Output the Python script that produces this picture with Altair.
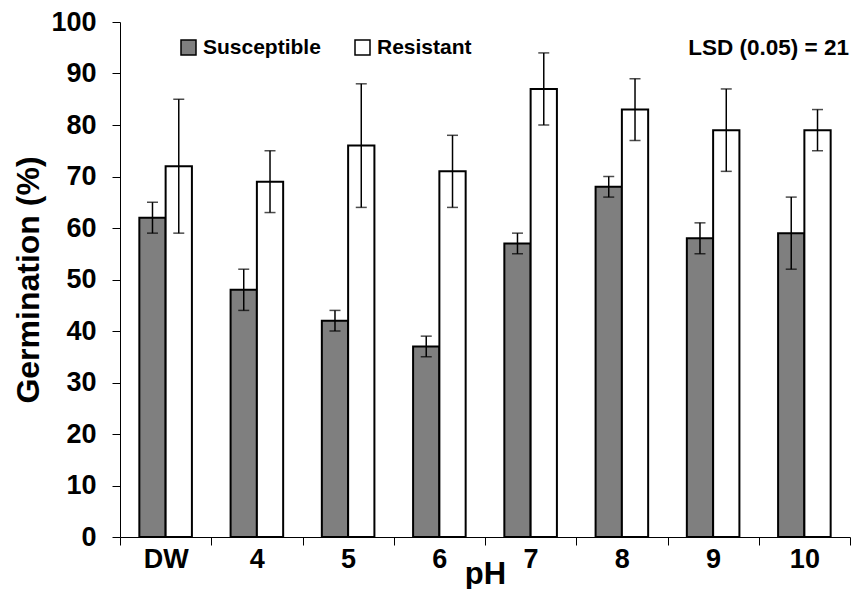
import altair as alt
import pandas as pd

ph = ["DW", "4", "5", "6", "7", "8", "9", "10"]
groups = ["Susceptible", "Resistant"]
susceptible = [62, 48, 42, 37, 57, 68, 58, 59]
susceptible_err = [3, 4, 2, 2, 2, 2, 3, 7]
resistant = [72, 69, 76, 71, 87, 83, 79, 79]
resistant_err = [13, 6, 12, 7, 7, 6, 8, 4]
lsd_text = ["LSD (0.05) = 21"]

rows = []
for i, p in enumerate(ph):
    for g, vals, errs in (("Susceptible", susceptible, susceptible_err),
                          ("Resistant", resistant, resistant_err)):
        rows.append({"pH": p, "group": g, "value": vals[i],
                     "lo": vals[i] - errs[i], "hi": vals[i] + errs[i]})
df = pd.DataFrame(rows)

FONT = "Liberation Sans"

x_axis = alt.Axis(title="pH", labelAngle=0, tickBand="extent", tickSize=8,
                  labelFontSize=27, titleFontSize=31, labelPadding=1,
                  titlePadding=-13)
y_axis = alt.Axis(title="Germination (%)", values=list(range(0, 101, 10)),
                  grid=False, tickSize=8, labelFontSize=27, titleFontSize=32,
                  labelPadding=16, titlePadding=5)

x = alt.X("pH:N", sort=ph, scale=alt.Scale(paddingInner=0, paddingOuter=0), axis=x_axis)
xo = alt.XOffset("group:N", sort=groups,
                 scale=alt.Scale(domain=groups, paddingInner=0, paddingOuter=0.736))
y_scale = alt.Scale(domain=[0, 100], nice=False)

base = alt.Chart(df)

bars = base.mark_bar(stroke="black", strokeWidth=2).encode(
    x=x, xOffset=xo,
    y=alt.Y("value:Q", scale=y_scale, axis=y_axis),
    color=alt.Color("group:N", sort=groups,
                    scale=alt.Scale(domain=groups, range=["#7f7f7f", "#ffffff"]),
                    legend=alt.Legend(title=None, orient="none", legendX=58, legendY=15,
                                      direction="horizontal", symbolType="square",
                                      symbolSize=225, symbolStrokeColor="black",
                                      symbolStrokeWidth=1.5, labelFont=FONT,
                                      labelFontSize=21, labelFontWeight="bold",
                                      labelColor="black", columnPadding=31,
                                      labelOffset=4, padding=0)),
)

rules = base.mark_rule(color="black", strokeWidth=1.5).encode(
    x=x, xOffset=xo,
    y=alt.Y("lo:Q", scale=y_scale, axis=y_axis),
    y2="hi:Q",
)
caps_hi = base.mark_tick(color="black", size=11, thickness=1.5, orient="horizontal").encode(
    x=x, xOffset=xo, y=alt.Y("hi:Q", scale=y_scale, axis=y_axis))
caps_lo = base.mark_tick(color="black", size=11, thickness=1.5, orient="horizontal").encode(
    x=x, xOffset=xo, y=alt.Y("lo:Q", scale=y_scale, axis=y_axis))

lsd = alt.Chart(pd.DataFrame({"t": lsd_text})).mark_text(
    align="right", baseline="middle", font=FONT, fontSize=22.5, fontWeight="bold",
    color="black", dx=-1).encode(x=alt.value("width"), y=alt.value(26), text="t:N")

chart = alt.layer(bars, rules, caps_hi, caps_lo, lsd).properties(
    width=843, height=581,
    autosize=alt.AutoSizeParams(type="fit", contains="padding"),
    padding={"left": 4, "top": 0, "right": 0, "bottom": 0},
).configure_view(stroke=None).configure_axis(
    domainColor="black", tickColor="black", labelColor="black", titleColor="black",
    labelFont=FONT, titleFont=FONT, labelFontWeight="bold", titleFontWeight="bold",
    domainWidth=1, tickWidth=1,
)

chart.save("out.html", embed_options={"renderer": "svg", "actions": False})
